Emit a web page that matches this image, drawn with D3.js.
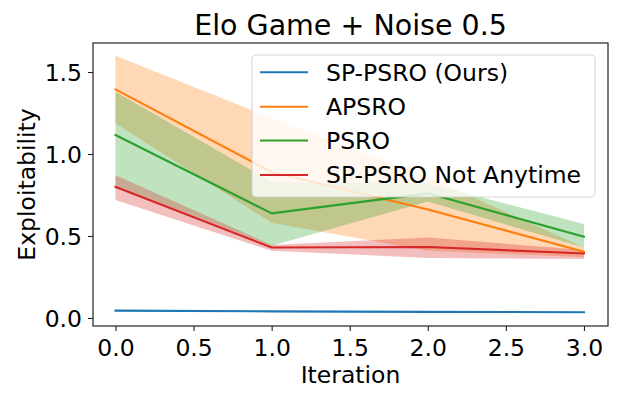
<!DOCTYPE html>
<html><head><meta charset="utf-8">
<script src="https://cdn.jsdelivr.net/npm/d3@7"></script>
<style>
html,body{margin:0;padding:0;background:#fff;}
text{font-family:"DejaVu Sans",sans-serif;fill:#000;}
</style></head>
<body><svg id="c" width="638" height="395"></svg>
<script>
const iterations = [0, 1, 2, 3];
const seriesNames = ["SP-PSRO (Ours)", "APSRO", "PSRO", "SP-PSRO Not Anytime"];
const colors = ["#1f77b4", "#ff7f0e", "#2ca02c", "#d62728"];
const spMean = [0.045, 0.040, 0.037, 0.035];
const spLow  = [0.041, 0.037, 0.034, 0.032];
const spHigh = [0.049, 0.043, 0.040, 0.038];
const apMean = [1.394, 0.89, 0.662, 0.404];
const apLow  = [1.187, 0.58, 0.41, 0.37];
const apHigh = [1.60, 1.22, 0.86, 0.43];
const psMean = [1.116, 0.638, 0.76, 0.496];
const psLow  = [0.81, 0.44, 0.71, 0.43];
const psHigh = [1.38, 0.83, 0.82, 0.573];
const naMean = [0.80, 0.43, 0.433, 0.393];
const naLow  = [0.72, 0.41, 0.366, 0.36];
const naHigh = [0.87, 0.445, 0.49, 0.415];
const xTicks = [0, 0.5, 1, 1.5, 2, 2.5, 3];
const yTicks = [0, 0.5, 1.0, 1.5];

const series = [
  {mean: spMean, lo: spLow, hi: spHigh},
  {mean: apMean, lo: apLow, hi: apHigh},
  {mean: psMean, lo: psLow, hi: psHigh},
  {mean: naMean, lo: naLow, hi: naHigh}
];

const L = 93, R = 608, T = 43, B = 326;
const svg = d3.select("#c");
const x = d3.scaleLinear().domain([-0.144, 3.154]).range([L, R]);
const y = d3.scaleLinear().domain([-0.049, 1.677]).range([B, T]);

const area = d3.area().x((d, i) => x(iterations[i])).y0(d => y(d[0])).y1(d => y(d[1]));
const line = d3.line().x((d, i) => x(iterations[i])).y(d => y(d));

series.forEach((s, k) => {
  const pts = s.lo.map((v, i) => [v, s.hi[i]]);
  svg.append("path").attr("d", area(pts)).attr("fill", colors[k]).attr("fill-opacity", 0.3).attr("stroke", "none");
});
series.forEach((s, k) => {
  svg.append("path").attr("d", line(s.mean)).attr("fill", "none").attr("stroke", colors[k])
    .attr("stroke-width", 2.1).attr("stroke-linejoin", "round").attr("stroke-linecap", "square");
});

// axes
const fs = 23.5;
const xAxis = svg.append("g").attr("transform", `translate(0,${B})`)
  .call(d3.axisBottom(x).tickValues(xTicks).tickFormat(d3.format(".1f")).tickSize(5).tickPadding(6));
const yAxis = svg.append("g").attr("transform", `translate(${L},0)`)
  .call(d3.axisLeft(y).tickValues(yTicks).tickFormat(d3.format(".1f")).tickSize(5).tickPadding(6));
[xAxis, yAxis].forEach(g => {
  g.select(".domain").remove();
  g.selectAll(".tick line").attr("stroke", "#222").attr("stroke-width", 1.1);
  g.selectAll(".tick text").attr("font-size", fs).attr("font-family", "DejaVu Sans").attr("fill", "#111");
});
xAxis.selectAll(".tick text").attr("dy", null).attr("y", 30);
yAxis.selectAll(".tick text").attr("dy", "0.36em");

svg.append("rect").attr("x", L).attr("y", T).attr("width", R - L).attr("height", B - T)
  .attr("fill", "none").attr("stroke", "#222").attr("stroke-width", 1.2);

svg.append("text").attr("x", (L + R) / 2).attr("y", 35).attr("text-anchor", "middle")
  .attr("font-size", 28.5).text("Elo Game + Noise 0.5");
svg.append("text").attr("x", (L + R) / 2).attr("y", 383).attr("text-anchor", "middle")
  .attr("font-size", fs).text("Iteration");
svg.append("text").attr("transform", `translate(35,${(T + B) / 2}) rotate(-90)`).attr("text-anchor", "middle")
  .attr("font-size", fs).text("Exploitability");

// legend
const lg = svg.append("g");
lg.append("rect").attr("x", 252).attr("y", 55).attr("width", 343).attr("height", 142).attr("rx", 4)
  .attr("fill", "#fff").attr("fill-opacity", 0.8).attr("stroke", "#ccc").attr("stroke-opacity", 0.8).attr("stroke-width", 1.1);
const rowY = [72.3, 106.7, 140.5, 175];
seriesNames.forEach((n, k) => {
  lg.append("line").attr("x1", 260).attr("x2", 308).attr("y1", rowY[k]).attr("y2", rowY[k])
    .attr("stroke", colors[k]).attr("stroke-width", 2.1);
  lg.append("text").attr("x", 326).attr("y", rowY[k]).attr("dy", "0.36em").attr("font-size", fs).text(n);
});
</script></body></html>
